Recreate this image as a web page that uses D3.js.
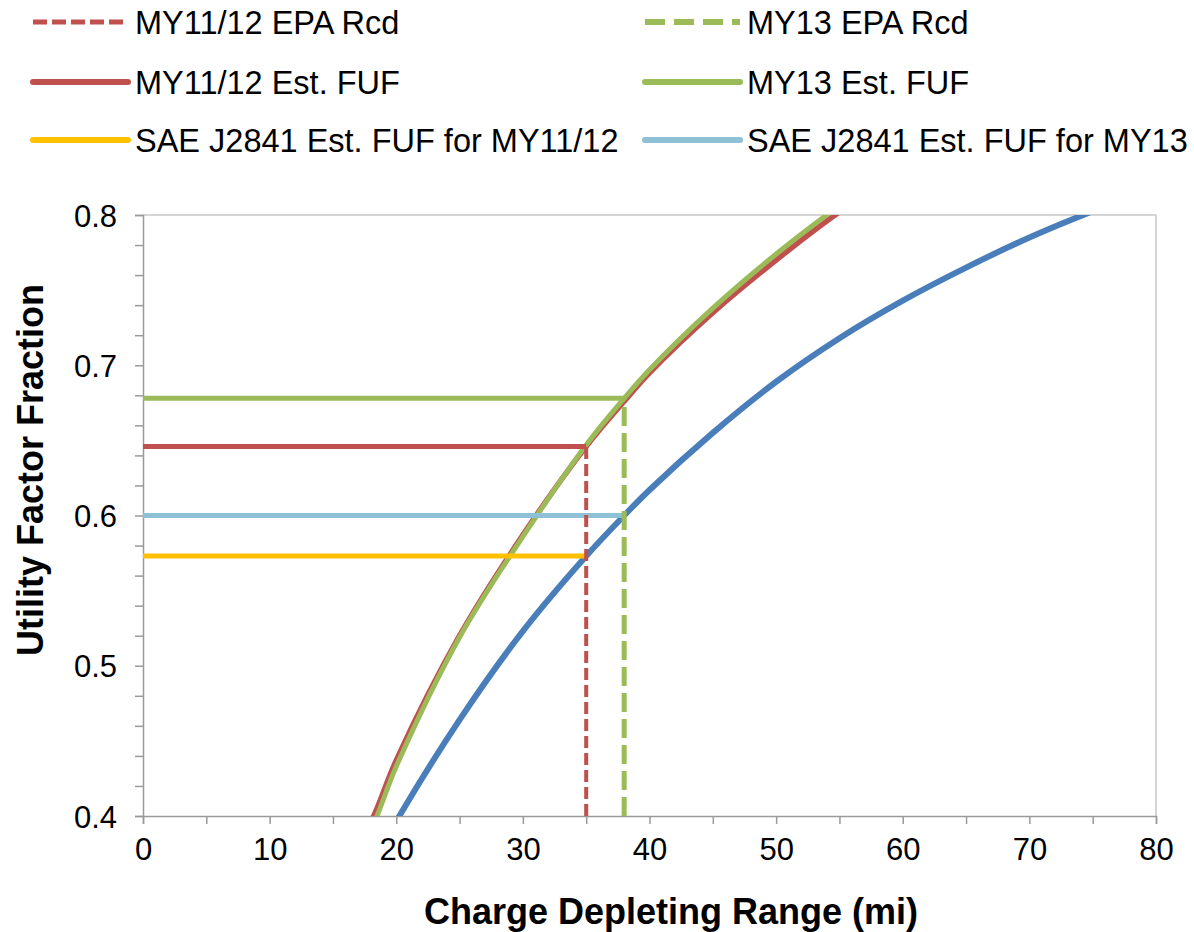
<!DOCTYPE html>
<html>
<head>
<meta charset="utf-8">
<script src="https://cdn.jsdelivr.net/npm/d3@7"></script>
<style>
  html, body { margin: 0; padding: 0; background: #fff; }
  svg { display: block; font-family: "Liberation Sans", Arial, sans-serif; }
</style>
</head>
<body>
<svg id="chart" width="1194" height="932"></svg>
<script>
// Charge depleting range (mi) at which each curve is sampled
const rangeMi = [15, 18, 20, 25, 30, 35, 38, 40, 45, 50, 55, 60, 65, 70, 75, 80];
// Estimated fleet utility factor curves
const fuf1112 = [0.352, 0.396, 0.437, 0.520, 0.587, 0.646, 0.676, 0.695, 0.735, 0.770, 0.802, 0.828, 0.852, 0.872, 0.890, 0.905];
const fuf13   = [0.350, 0.391, 0.433, 0.519, 0.586, 0.647, 0.678, 0.697, 0.738, 0.774, 0.806, 0.833, 0.856, 0.876, 0.893, 0.908];
// SAE J2841 fleet utility factor curve
const fufJ2841 = [0.318, 0.366, 0.3965, 0.464, 0.523, 0.573, 0.600, 0.617, 0.655, 0.689, 0.718, 0.743, 0.765, 0.785, 0.8025, 0.818];

// EPA recorded ranges and their utility factors
const epaRange1112 = 35, epaRange13 = 38;
const estFuf1112 = 0.646, estFuf13 = 0.678;
const saeFuf1112 = 0.573, saeFuf13 = 0.600;

const xTicks = [0, 10, 20, 30, 40, 50, 60, 70, 80];
const yTicks = [0.4, 0.5, 0.6, 0.7, 0.8];

const legendLabels = [
  "MY11/12 EPA Rcd", "MY13 EPA Rcd",
  "MY11/12 Est. FUF", "MY13 Est. FUF",
  "SAE J2841 Est. FUF for MY11/12", "SAE J2841 Est. FUF for MY13"
];

const C = {
  red: "#C0504D", green: "#9BBB59", yellow: "#FFC000",
  lightBlue: "#8EC1D5", blue: "#4A7EBB", axis: "#9A9A9A", frame: "#C8C8C8"
};

const svg = d3.select("#chart");
const x = d3.scaleLinear().domain([0, 80]).range([143, 1156]);
const y = d3.scaleLinear().domain([0.4, 0.8]).range([816, 215]);

// Plot frame (top and right)
svg.append("path")
  .attr("d", `M${x(0)},${y(0.8)}H${x(80)}V${y(0.4)}`)
  .attr("fill", "none").attr("stroke", C.frame).attr("stroke-width", 1.5);

// Axes
const xAxis = d3.axisBottom(x).tickValues(d3.range(0, 81, 5)).tickSize(8)
  .tickFormat(d => xTicks.includes(d) ? d : "");
const gx = svg.append("g").attr("transform", `translate(0,${y(0.4)})`).call(xAxis);
const yAxis = d3.axisLeft(y).tickValues(d3.range(0.4, 0.8001, 0.02)).tickSize(8)
  .tickFormat(d => yTicks.some(t => Math.abs(t - d) < 1e-6) ? d3.format(".1f")(d) : "");
const gy = svg.append("g").attr("transform", `translate(${x(0)},0)`).call(yAxis);

[gx, gy].forEach(g => {
  g.select(".domain").attr("stroke", C.axis).attr("stroke-width", 1.5);
  g.selectAll(".tick line").attr("stroke", C.axis).attr("stroke-width", 1.5);
  g.selectAll(".tick text").attr("fill", "#000").attr("font-size", 31)
    .attr("font-family", "Liberation Sans, Arial, sans-serif");
});
gx.selectAll(".tick text").attr("dy", "1.05em");
gy.selectAll(".tick text").attr("x", -26).attr("dy", "0.36em");

// Axis titles
svg.append("text").attr("x", 671).attr("y", 924)
  .attr("text-anchor", "middle").attr("font-size", 36).attr("font-weight", "bold")
  .text("Charge Depleting Range (mi)");
svg.append("text")
  .attr("transform", `translate(43,470) rotate(-90)`)
  .attr("text-anchor", "middle").attr("font-size", 36).attr("font-weight", "bold")
  .text("Utility Factor Fraction");

// Clip region for the curves
svg.append("clipPath").attr("id", "plot-clip").append("rect")
  .attr("x", x(0)).attr("y", y(0.8)).attr("width", x(80) - x(0)).attr("height", y(0.4) - y(0.8));

const plot = svg.append("g").attr("clip-path", "url(#plot-clip)");
const line = d3.line().x(d => x(d[0])).y(d => y(d[1])).curve(d3.curveCatmullRom.alpha(0.5));

function curve(vals, color, w) {
  plot.append("path").datum(rangeMi.map((r, i) => [r, vals[i]]))
    .attr("d", line).attr("fill", "none").attr("stroke", color)
    .attr("stroke-width", w).attr("stroke-linejoin", "round");
}
function seg(pts, color, w, dash) {
  plot.append("path").datum(pts).attr("d", d3.line().x(d => x(d[0])).y(d => y(d[1])))
    .attr("fill", "none").attr("stroke", color).attr("stroke-width", w)
    .attr("stroke-dasharray", dash || null);
}

// Blue J2841 curve
curve(fufJ2841, C.blue, 6);
// Estimated FUF curves
curve(fuf1112, C.red, 5.5);
curve(fuf13, C.green, 5);

// SAE J2841 horizontals
seg([[0, saeFuf1112], [epaRange1112, saeFuf1112]], C.yellow, 5);
seg([[0, saeFuf13], [epaRange13, saeFuf13]], C.lightBlue, 5);
// Estimated FUF horizontals
seg([[0, estFuf1112], [epaRange1112, estFuf1112]], C.red, 5);
seg([[0, estFuf13], [epaRange13, estFuf13]], C.green, 5);
// EPA recorded range verticals
seg([[epaRange1112, 0.4], [epaRange1112, estFuf1112]], C.red, 4, "12,5");
seg([[epaRange13, 0.4], [epaRange13, estFuf13]], C.green, 5, "19,7");

// Legend
const legendItems = [
  { label: legendLabels[0], color: C.red, dash: "14,5", w: 5 },
  { label: legendLabels[1], color: C.green, dash: "20,9", w: 6 },
  { label: legendLabels[2], color: C.red, dash: null, w: 6 },
  { label: legendLabels[3], color: C.green, dash: null, w: 6 },
  { label: legendLabels[4], color: C.yellow, dash: null, w: 6 },
  { label: legendLabels[5], color: C.lightBlue, dash: null, w: 6 }
];
const colX = [33, 645], rowY = [22, 82, 140];
const lg = svg.append("g").selectAll("g").data(legendItems).join("g")
  .attr("transform", (d, i) => `translate(${colX[i % 2]},${rowY[Math.floor(i / 2)]})`);
lg.append("line").attr("x1", 0).attr("x2", 95).attr("y1", 0).attr("y2", 0)
  .attr("stroke", d => d.color).attr("stroke-width", d => d.w)
  .attr("stroke-dasharray", d => d.dash).attr("stroke-linecap", d => d.dash ? "butt" : "round");
lg.append("text").attr("x", 102).attr("dy", "0.36em").attr("font-size", 32.5)
  .text(d => d.label);
</script>
</body>
</html>
